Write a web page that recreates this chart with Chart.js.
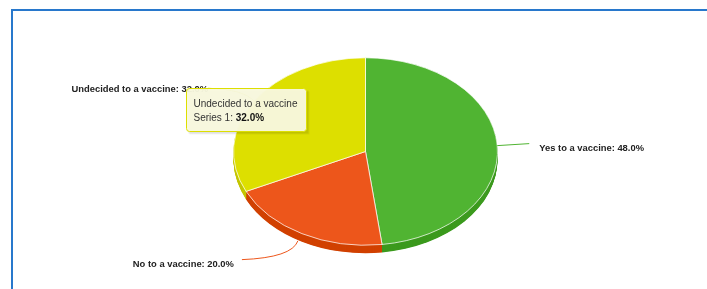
<!DOCTYPE html>
<html>
<head>
<meta charset="utf-8">
<script src="https://cdn.jsdelivr.net/npm/chart.js@4.4.0/dist/chart.umd.min.js"></script>
<style>
  html, body { margin: 0; padding: 0; background: #fff; overflow: hidden; }
  #wrap { position: relative; width: 707px; height: 289px; }
  #frame { position: absolute; left: 11px; top: 9px; width: 800px; height: 400px;
           border: 2px solid #2878cc; box-sizing: border-box; pointer-events: none; }
  canvas { position: absolute; left: 0; top: 0; }
</style>
</head>
<body>
<div id="wrap">
  <div id="frame"></div>
  <canvas id="c" width="707" height="289"></canvas>
</div>
<script>
// ---- data ----
const categories = ['Yes to a vaccine', 'No to a vaccine', 'Undecided to a vaccine'];
const seriesName = 'Series 1';
const values = [48.0, 20.0, 32.0];

// ---- styles ----
const topColors  = ['#50b432', '#ed561b', '#dddf00'];
const sideColors = ['#3c9a1e', '#d14102', '#c4c600'];
const squash = 0.71;   // vertical squash of the pie (ellipse)
const depth = 8;       // 3D depth in px
const hoverIndex = 2;  // slice whose tooltip is shown

function edgePoint(el, ang, cy) {
  return { x: el.x + el.outerRadius * Math.cos(ang), y: cy + el.outerRadius * Math.sin(ang) * squash };
}

const pie3d = {
  id: 'pie3d',
  beforeDatasetsDraw(chart) {
    const ctx = chart.ctx;
    const meta = chart.getDatasetMeta(0);
    for (let d = depth; d >= 0.5; d -= 0.5) {
      meta.data.forEach((el, i) => {
        ctx.save();
        ctx.translate(0, d);
        ctx.translate(el.x, el.y);
        ctx.scale(1, squash);
        ctx.translate(-el.x, -el.y);
        ctx.beginPath();
        ctx.moveTo(el.x, el.y);
        ctx.arc(el.x, el.y, el.outerRadius, el.startAngle, el.endAngle);
        ctx.closePath();
        ctx.fillStyle = sideColors[i];
        ctx.fill();
        ctx.restore();
      });
    }
    const el0 = meta.data[0];
    ctx.save();
    ctx.translate(el0.x, el0.y);
    ctx.scale(1, squash);
    ctx.translate(-el0.x, -el0.y);
  },
  afterDatasetsDraw(chart) {
    chart.ctx.restore();
  },
  afterDraw(chart) {
    const ctx = chart.ctx;
    const meta = chart.getDatasetMeta(0);
    const labelFont = 'bold 9.4px "Liberation Sans", Arial, sans-serif';
    const pts = [];
    meta.data.forEach((el, i) => {
      const mid = (el.startAngle + el.endAngle) / 2;
      const P = edgePoint(el, mid, el.y);
      const text = categories[i] + ': ' + values[i].toFixed(1) + '%';
      ctx.save();
      ctx.strokeStyle = topColors[i];
      ctx.lineWidth = 1;
      ctx.font = labelFont;
      ctx.fillStyle = '#222';
      ctx.textBaseline = 'alphabetic';
      const right = Math.cos(mid) >= 0;
      let ex, ey, tx, ty, sx = P.x, sy = P.y;
      if (right) {
        ex = P.x + 32; ey = P.y - 2;
        ctx.beginPath(); ctx.moveTo(sx, sy); ctx.lineTo(ex, ey); ctx.stroke();
        ctx.textAlign = 'left';
        tx = ex + 10; ty = ey + 7.5;
      } else if (Math.sin(mid) > 0) {
        sy = P.y + depth * 0.9; sx = P.x - 4;
        ex = P.x - 60; ey = P.y + 26;
        ctx.beginPath(); ctx.moveTo(sx, sy);
        ctx.quadraticCurveTo(sx - 6, ey - 2, ex, ey); ctx.stroke();
        ctx.textAlign = 'right';
        tx = ex - 8; ty = ey + 7;
      } else {
        ex = P.x - 46; ey = P.y - 13;
        ctx.beginPath(); ctx.moveTo(sx, sy);
        ctx.quadraticCurveTo(sx - 10, ey + 1, ex, ey); ctx.stroke();
        ctx.textAlign = 'right';
        tx = ex + 0; ty = ey + 4;
      }
      ctx.fillText(text, tx, ty);
      ctx.restore();
      pts.push(P);
    });

    // tooltip
    const i = hoverIndex;
    const P = pts[i];
    const bx = Math.round(P.x - 68) + 0.5, by = Math.round(P.y - 13) + 0.5;
    ctx.save();
    const f1 = '10px "Liberation Sans", Arial, sans-serif';
    const f2 = 'bold 10px "Liberation Sans", Arial, sans-serif';
    ctx.font = f1;
    const w1 = ctx.measureText(categories[i]).width;
    const lead = seriesName + ': ';
    const wl = ctx.measureText(lead).width;
    ctx.font = f2;
    const val = values[i].toFixed(1) + '%';
    const wv = ctx.measureText(val).width;
    const bw = Math.round(Math.max(w1, wl + wv) + 16), bh = 43;
    ctx.fillStyle = 'rgba(0,0,0,0.08)';
    ctx.fillRect(bx + 2, by + 2, bw, bh);
    ctx.fillStyle = 'rgba(0,0,0,0.05)';
    ctx.fillRect(bx + 3, by + 3, bw, bh);
    ctx.beginPath();
    ctx.roundRect(bx, by, bw, bh, 3);
    ctx.fillStyle = 'rgba(248,248,222,0.96)';
    ctx.fill();
    ctx.strokeStyle = topColors[i];
    ctx.lineWidth = 1;
    ctx.stroke();
    ctx.fillStyle = '#333';
    ctx.textAlign = 'left';
    ctx.textBaseline = 'alphabetic';
    ctx.font = f1;
    ctx.fillText(categories[i], bx + 7, by + 18);
    ctx.fillText(lead, bx + 7, by + 32);
    ctx.font = f2;
    ctx.fillStyle = '#111';
    ctx.fillText(val, bx + 7 + wl, by + 32);
    ctx.restore();
  }
};

new Chart(document.getElementById('c'), {
  type: 'pie',
  data: {
    labels: categories,
    datasets: [{
      label: seriesName,
      data: values,
      backgroundColor: topColors,
      borderColor: 'rgba(255,255,255,0.85)',
      borderWidth: 1
    }]
  },
  options: {
    responsive: false,
    animation: false,
    events: [],
    layout: { padding: { left: 233, right: 209, top: 19, bottom: 5 } },
    plugins: { legend: { display: false }, tooltip: { enabled: false } }
  },
  plugins: [pie3d]
});
</script>
</body>
</html>
